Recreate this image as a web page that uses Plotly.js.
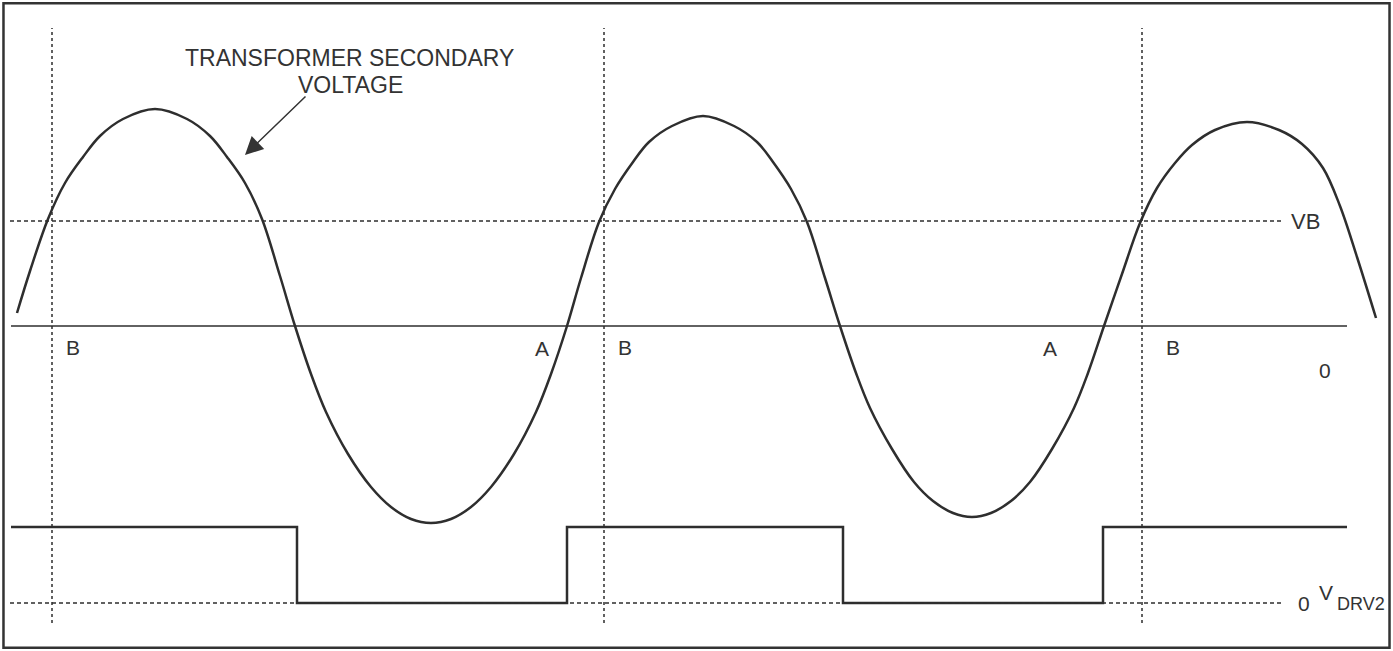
<!DOCTYPE html>
<html>
<head>
<meta charset="utf-8">
<script src="https://cdn.plot.ly/plotly-3.0.1.min.js"></script>
<style>
  html, body { margin: 0; padding: 0; background: #fff; }
  #grafico { width: 1393px; height: 651px; }
</style>
</head>
<body>
<div id="grafico"></div>
<script>
// Transformer secondary voltage (arbitrary units)
const tSec = [17, 30, 48, 65, 83, 100, 123, 155, 187, 210, 227, 245, 262, 280, 295,
              311, 326, 348, 371, 391, 411, 431, 451, 471, 491, 514, 536, 551, 567,
              581, 599, 615, 633, 649, 672, 703, 734, 757, 773, 791, 807, 825, 840,
              856, 870, 892, 914, 933, 953, 972, 991, 1011, 1030, 1052, 1074, 1088, 1104,
              1122, 1140, 1157, 1175, 1192, 1215, 1247, 1279, 1302, 1323, 1340, 1357, 1376];
const vSec = [13, 55, 107, 143, 169, 190, 207, 217, 207, 190, 169, 143, 107, 50, 0,
              -48, -86, -128, -161, -181, -193, -197, -193, -181, -161, -128, -86, -48, 0,
              48, 104, 137, 164, 184, 200, 210, 200, 184, 164, 137, 104, 48, 0,
              -47, -82, -123, -156, -175, -187, -191, -187, -175, -156, -123, -82, -47, 0,
              52, 103, 138, 163, 181, 196, 204, 196, 182, 158, 120, 69, 8];

// V_DRV2 drive signal (same time base)
const tDrv = [11, 297, 567, 843, 1103, 1347];
const vDrv = [-201, -277, -201, -277, -201, -201];
const drvZero = -277;

// reference levels and marker times
const vbLevel = 105;
const bTimes = [52, 604, 1142];
const bLabelT = [73, 625, 1173];
const aLabelT = [542, 1050];

const ink = '#2e2e2e';
const fontFam = 'Liberation Sans, Arial, sans-serif';

const data = [
    {
        x: tSec, y: vSec,
        type: 'scatter', mode: 'lines',
        line: { color: ink, width: 2.5, shape: 'spline', smoothing: 1 }
    },
    {
        x: tDrv, y: vDrv,
        type: 'scatter', mode: 'lines',
        line: { color: ink, width: 2.5, shape: 'hv' }
    }
];

const shapes = [
    // 0 line
    { type: 'line', x0: 11, x1: 1347, y0: 0, y1: 0, line: { color: ink, width: 1.5 } },
    // VB level
    { type: 'line', x0: 10, x1: 1284, y0: vbLevel, y1: vbLevel, line: { color: ink, width: 1.5, dash: '4px,3px' } },
    // V_DRV2 zero
    { type: 'line', x0: 10, x1: 1284, y0: drvZero, y1: drvZero, line: { color: ink, width: 1.5, dash: '4px,3px' } },
    // frame
    { type: 'rect', xref: 'paper', yref: 'paper', x0: 0.0025, x1: 0.9975, y0: 0.005, y1: 0.995,
      line: { color: '#333', width: 2.5 } }
];
bTimes.forEach(function (t) {
    shapes.push({ type: 'line', x0: t, x1: t, y0: -297, y1: 298, line: { color: ink, width: 1.5, dash: '3px,3px' } });
});

const txt = function (x, y, s, size, anchor) {
    return { x: x, y: y, text: s, showarrow: false, xanchor: anchor || 'center', yanchor: 'middle',
             font: { family: fontFam, size: size, color: '#333' } };
};

const annotations = [
    txt(349, 268, 'TRANSFORMER SECONDARY', 23),
    txt(350, 241, 'VOLTAGE', 23),
    { x: 245, y: 171, ax: 307, ay: 231, axref: 'x', ayref: 'y', text: '', showarrow: true,
      arrowhead: 2, arrowsize: 2.4, arrowwidth: 1.5, arrowcolor: '#333', standoff: 0 },
    txt(1289, vbLevel, 'VB', 22, 'left'),
    txt(1325, -44, '0', 21),
    txt(1304, drvZero, '0', 21),
    txt(1326, drvZero + 11, 'V', 21),
    txt(1335, drvZero - 1, 'DRV2', 18, 'left')
];
bLabelT.forEach(function (t) { annotations.push(txt(t, -21, 'B', 21)); });
aLabelT.forEach(function (t) { annotations.push(txt(t, -22, 'A', 21)); });

const layout = {
    width: 1393, height: 651,
    margin: { l: 0, r: 0, t: 0, b: 0 },
    showlegend: false,
    hovermode: false,
    xaxis: { range: [0, 1393], visible: false, fixedrange: true },
    yaxis: { range: [-325, 326], visible: false, fixedrange: true },
    shapes: shapes,
    annotations: annotations,
    plot_bgcolor: '#fff',
    paper_bgcolor: '#fff'
};

Plotly.newPlot('grafico', data, layout, { displayModeBar: false, staticPlot: true });
</script>
</body>
</html>
